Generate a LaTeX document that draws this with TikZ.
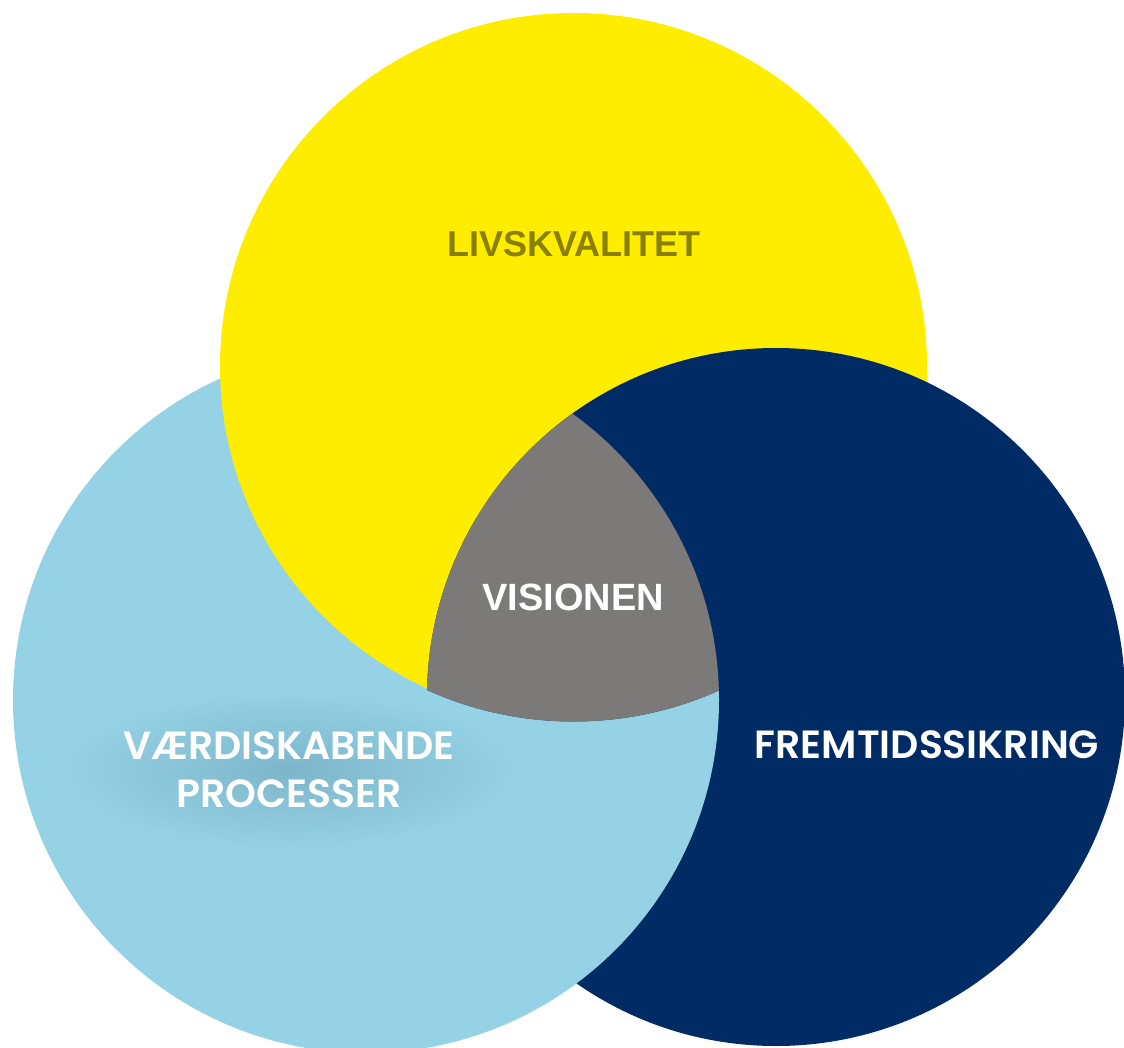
\documentclass[tikz,border=0pt]{standalone}
\usepackage{fontspec}
\setmainfont{Liberation Sans}
\newfontfamily\geofont{Poppins}[BoldFont={Poppins SemiBold}]
\usepackage{tikz}
\usetikzlibrary{calc}

\definecolor{sun}{HTML}{FFED00}
\definecolor{navy}{HTML}{002B65}
\definecolor{sky}{HTML}{95D2E5}
\definecolor{stone}{HTML}{7B7A78}
\definecolor{olive}{HTML}{8A8000}
\definecolor{skyshade}{HTML}{7DB6CA}

\tikzset{
  arial/.style={font=\fontsize{27}{32}\selectfont\bfseries},
  geo/.style={font=\geofont\fontsize{29.5}{36}\selectfont\bfseries, text=white, align=center}
}

\begin{document}
\begin{tikzpicture}[x=0.75pt,y=-0.75pt]
      \useasboundingbox (0,0) rectangle (1124,1048);
      \clip (0,0) rectangle (1124,1048);
      \coordinate (cy) at (573.5,366.5);
      \coordinate (cb) at (366,700);
      \coordinate (cn) at (776,697);
      % circles
      \fill[navy] (cn) circle (349);
      \fill[sky] (cb) circle (353);
      \fill[sun] (cy) circle (353.5);
      \begin{scope}
        \clip (cy) circle (355);
        \fill[navy] (cn) circle (349);
        \clip (cn) circle (349);
        \fill[stone] (cb) circle (353);
      \end{scope}
      % glow behind the left label
      \shade[inner color=skyshade, outer color=sky] (290,770) ellipse (230 and 80);
      \node[arial, text=olive] (livs) at (574,244) {LIVSKVALITET};
      \node[arial, text=white, font=\fontsize{28.5}{32}\selectfont\bfseries] (vision) at (573,597) {VISIONEN};
      \node[geo] (vaerdi) at (289,770) {VÆRDISKABENDE\\PROCESSER};
      \node[geo] (fremtid) at (927,745) {FREMTIDSSIKRING};
  \end{tikzpicture}
\end{document}
